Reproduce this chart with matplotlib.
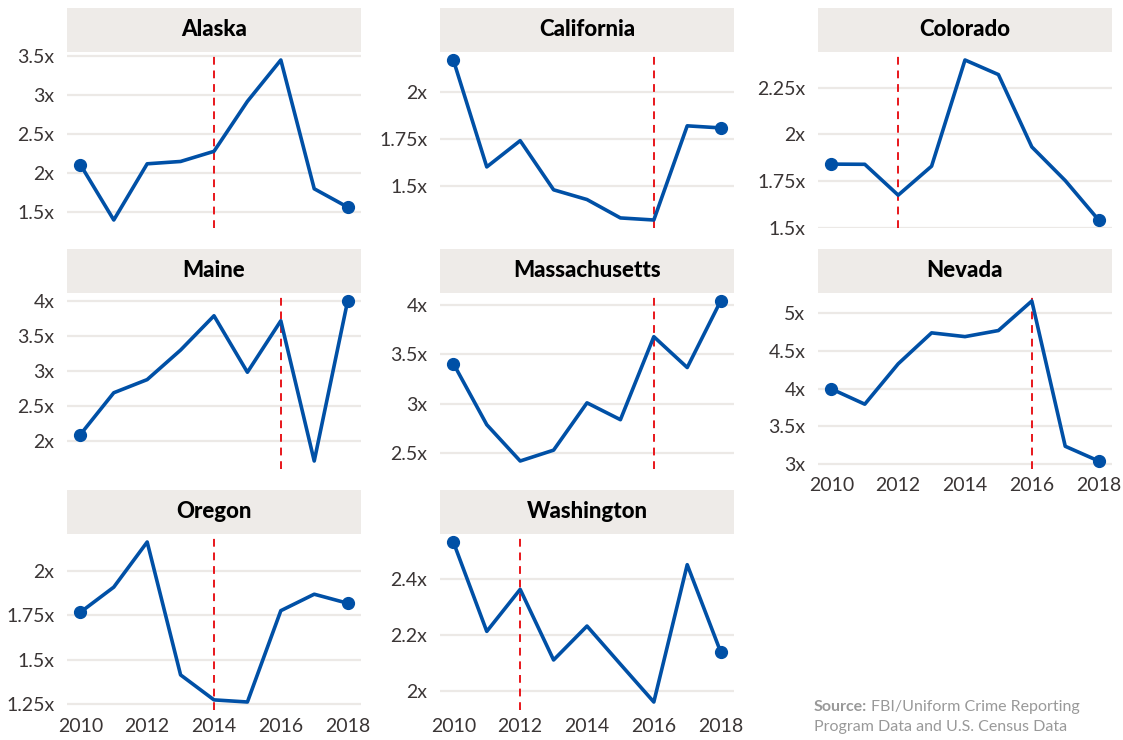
import numpy as np
import matplotlib
matplotlib.use("Agg")
import matplotlib.pyplot as plt
from matplotlib.patches import Rectangle
from matplotlib.ticker import FuncFormatter

plt.rcParams['font.family'] = ['Lato', 'DejaVu Sans']

years = [2010, 2011, 2012, 2013, 2014, 2015, 2016, 2017, 2018]

states = ["Alaska", "California", "Colorado", "Maine", "Massachusetts",
          "Nevada", "Oregon", "Washington"]

alaska = [2.11, 1.40, 2.12, 2.15, 2.28, 2.92, 3.45, 1.80, 1.565]
california = [2.17, 1.60, 1.74, 1.478, 1.426, 1.328, 1.317, 1.819, 1.808]
colorado = [1.841, 1.84, 1.675, 1.83, 2.398, 2.32, 1.933, 1.753, 1.542]
maine = [2.09, 2.687, 2.875, 3.297, 3.787, 2.98, 3.715, 1.712, 3.998]
massachusetts = [3.407, 2.786, 2.418, 2.528, 3.008, 2.837, 3.679, 3.366, 4.041]
nevada = [3.995, 3.792, 4.329, 4.741, 4.691, 4.772, 5.165, 3.232, 3.036]
oregon = [1.768, 1.91, 2.165, 1.414, 1.273, 1.261, 1.777, 1.87, 1.819]
washington = [2.531, 2.212, 2.362, 2.11, 2.231, 2.095, 1.96, 2.45, 2.139]

values = [alaska, california, colorado, maine, massachusetts,
          nevada, oregon, washington]

# year of the policy change (red dashed line)
change_year = [2014, 2016, 2012, 2016, 2016, 2016, 2014, 2012]

yticks = [
    [1.5, 2, 2.5, 3, 3.5],
    [1.5, 1.75, 2],
    [1.5, 1.75, 2, 2.25],
    [2, 2.5, 3, 3.5, 4],
    [2.5, 3, 3.5, 4],
    [3, 3.5, 4, 4.5, 5],
    [1.25, 1.5, 1.75, 2],
    [2, 2.2, 2.4],
]

# states that show the year axis
show_years = ["Nevada", "Oregon", "Washington"]

W, H = 1123, 740
fig = plt.figure(figsize=(W / 100, H / 100), dpi=100)

col_left = [67, 440, 818]
row_top = [52, 293, 534]
ax_w, ax_h, strip_h = 294, 176, 44

blue = "#0050A6"
red = "#E8161B"
grid_c = "#ECE9E6"
strip_c = "#EEEBE8"
tick_c = "#3A3535"

fmt = FuncFormatter(lambda v, p: f"{v:g}x")

for i, st in enumerate(states):
    r, c = divmod(i, 3)
    x0 = col_left[c] / W
    y0 = 1 - (row_top[r] + ax_h) / H
    ax = fig.add_axes([x0, y0, ax_w / W, ax_h / H])
    v = values[i]

    ax.plot(years, v, color=blue, lw=2.6, solid_capstyle="butt", zorder=3)
    ax.plot([years[0], years[-1]], [v[0], v[-1]], "o", color=blue, ms=8.5, zorder=4)
    ax.axvline(change_year[i], color=red, lw=1.4, ls=(0, (4, 3)), zorder=2)

    ax.margins(x=0.05, y=0.05)
    ax.set_yticks(yticks[i])
    ax.yaxis.set_major_formatter(fmt)
    ax.grid(axis="y", color=grid_c, lw=1.6, zorder=0)
    ax.set_axisbelow(True)
    for s in ax.spines.values():
        s.set_visible(False)
    ax.tick_params(axis="both", length=0, labelsize=14, colors=tick_c)
    ax.tick_params(axis="y", pad=9)
    ax.tick_params(axis="x", pad=6)
    if st in show_years:
        ax.set_xticks([2010, 2012, 2014, 2016, 2018])
    else:
        ax.set_xticks([])

    ax.add_patch(Rectangle((0, 1), 1, strip_h / ax_h, transform=ax.transAxes,
                           facecolor=strip_c, edgecolor="none", clip_on=False))
    ax.text(0.5, 1 + strip_h / ax_h / 2, st, transform=ax.transAxes,
            ha="center", va="center", fontsize=16, fontweight="black", color="black")

src_x, src_y1, src_y2 = 814 / W, 1 - 707 / H, 1 - 727 / H
t1 = fig.text(src_x, src_y1, "Source:", fontsize=11.5, fontweight="bold",
              color="#999999", va="center")
fig.canvas.draw()
bb = t1.get_window_extent()
fig.text(bb.x1 / W + 4 / W, src_y1, "FBI/Uniform Crime Reporting", fontsize=11.5,
         color="#999999", va="center")
fig.text(src_x, src_y2, "Program Data and U.S. Census Data", fontsize=11.5,
         color="#999999", va="center")

fig.savefig("out.png", dpi=100)
